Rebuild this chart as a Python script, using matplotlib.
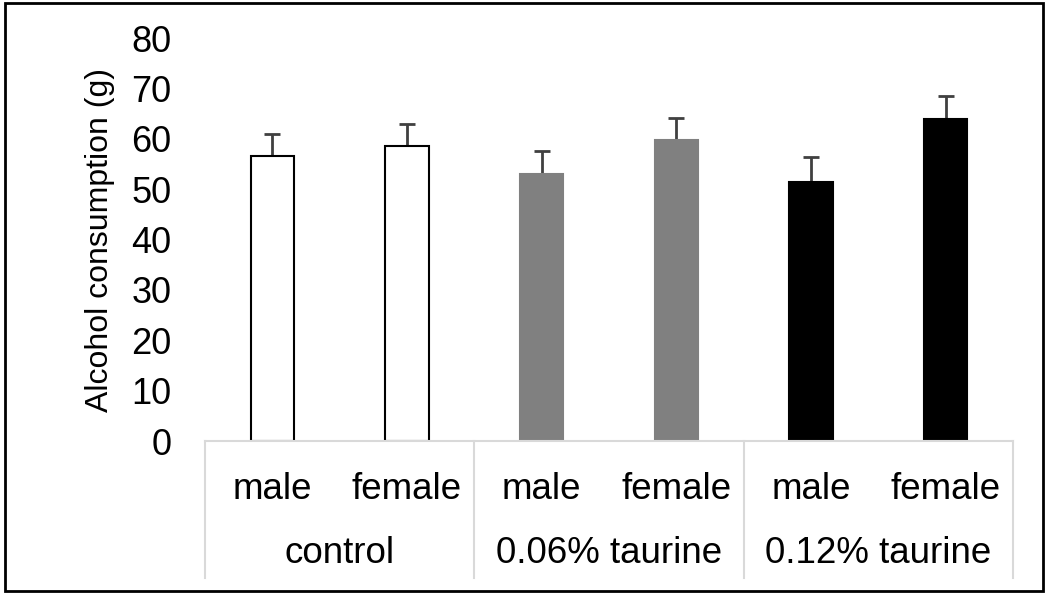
import matplotlib.pyplot as plt
from matplotlib.patches import Rectangle

plt.rcParams['font.family'] = ['Liberation Sans', 'DejaVu Sans']

# data
groups = ['control', '0.06% taurine', '0.12% taurine']
sexes = ['male', 'female']
means = [56.5, 58.6, 53.0, 59.7, 51.4, 64.0]
errors = [4.4, 4.3, 4.5, 4.5, 5.0, 4.4]
colors = ['white', 'white', '#808080', '#808080', 'black', 'black']
edges = ['black', 'black', '#808080', '#808080', 'black', 'black']

fig = plt.figure(figsize=(10.5, 5.97), dpi=100)
ax = fig.add_axes([0.1952, 0.2613, 0.7696, 0.675])

x = list(range(len(means)))
tops = [m + e for m, e in zip(means, errors)]
ax.vlines(x, means, tops, color='#404040', lw=2, zorder=1)
ax.plot(x, tops, ls='none', marker='_', ms=12, mew=2, color='#404040', zorder=1)
ax.bar(x, means, width=0.32, color=colors, edgecolor=edges, linewidth=1.5, zorder=2)

ax.set_xlim(-0.5, 5.5)
ax.set_ylim(0, 80)
ax.set_yticks(range(0, 81, 10))
ax.tick_params(axis='y', length=0, labelsize=26, pad=24)
ax.set_xticks([])
for s in ['top', 'right', 'left']:
    ax.spines[s].set_visible(False)
ax.spines['bottom'].set_color('#d9d9d9')
ax.spines['bottom'].set_linewidth(1.5)
ax.set_ylabel('Alcohol consumption (g)', fontsize=23, labelpad=12)

# category axis labels (two levels)
trans = ax.get_xaxis_transform()
for i in x:
    ax.text(i, -0.12, sexes[i % 2], transform=trans, ha='center', va='center', fontsize=26.5)
for g, name in enumerate(groups):
    ax.text(2 * g + 0.5, -0.28, name, transform=trans, ha='center', va='center', fontsize=26.5)
for b in [-0.5, 1.5, 3.5, 5.5]:
    ax.plot([b, b], [0, -0.34], transform=trans, color='#d9d9d9', lw=1.5, clip_on=False)

# outer frame
fig.patches.append(Rectangle((5 / 1050, 6 / 597), 1038 / 1050, 588 / 597,
                             transform=fig.transFigure, fill=False,
                             edgecolor='black', linewidth=2))

fig.savefig('out.png', dpi=100)
